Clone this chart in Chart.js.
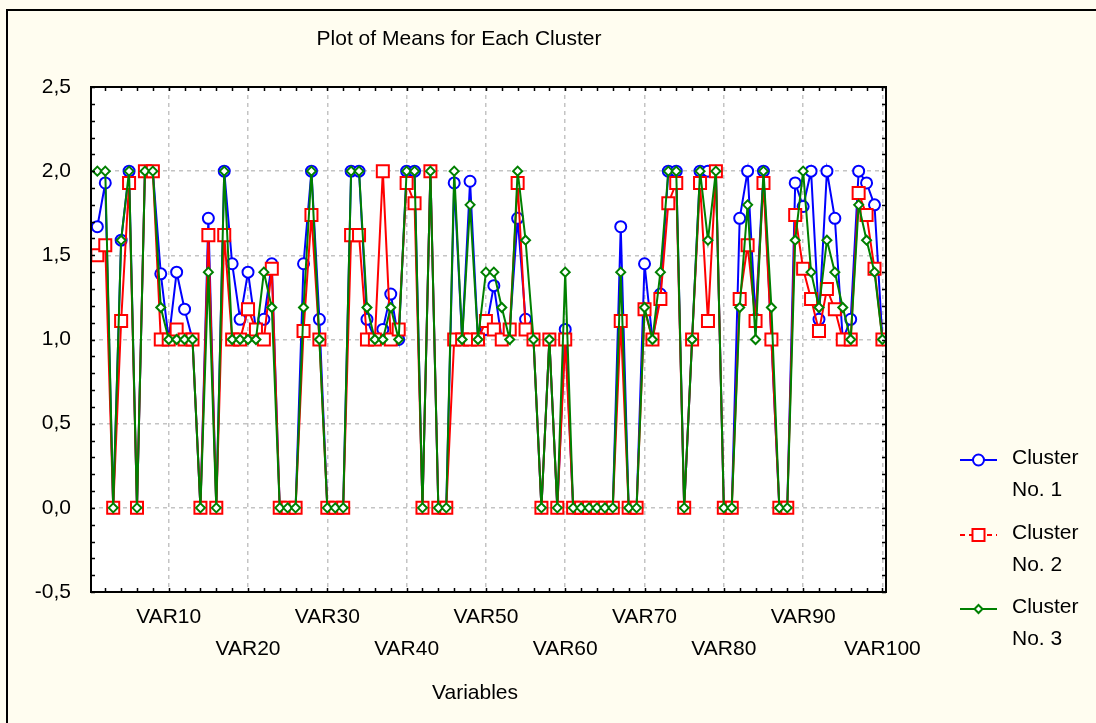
<!DOCTYPE html>
<html>
<head>
<meta charset="utf-8">
<title>Plot of Means for Each Cluster</title>
<script src="https://cdn.jsdelivr.net/npm/chart.js@4.4.1/dist/chart.umd.min.js"></script>
<style>
  html, body { margin: 0; padding: 0; background: #fffdf0; }
  canvas { display: block; }
</style>
</head>
<body>
<canvas id="myChart" width="1096" height="723"></canvas>
<script>
const variables = [
  'VAR1','VAR2','VAR3','VAR4','VAR5','VAR6','VAR7','VAR8','VAR9','VAR10',
  'VAR11','VAR12','VAR13','VAR14','VAR15','VAR16','VAR17','VAR18','VAR19','VAR20',
  'VAR21','VAR22','VAR23','VAR24','VAR25','VAR26','VAR27','VAR28','VAR29','VAR30',
  'VAR31','VAR32','VAR33','VAR34','VAR35','VAR36','VAR37','VAR38','VAR39','VAR40',
  'VAR41','VAR42','VAR43','VAR44','VAR45','VAR46','VAR47','VAR48','VAR49','VAR50',
  'VAR51','VAR52','VAR53','VAR54','VAR55','VAR56','VAR57','VAR58','VAR59','VAR60',
  'VAR61','VAR62','VAR63','VAR64','VAR65','VAR66','VAR67','VAR68','VAR69','VAR70',
  'VAR71','VAR72','VAR73','VAR74','VAR75','VAR76','VAR77','VAR78','VAR79','VAR80',
  'VAR81','VAR82','VAR83','VAR84','VAR85','VAR86','VAR87','VAR88','VAR89','VAR90',
  'VAR91','VAR92','VAR93','VAR94','VAR95','VAR96','VAR97','VAR98','VAR99','VAR100'
]

const cluster1 = [
  1.67,1.93,0,1.59,2,0,2,2,1.39,1,
  1.40,1.18,1,0,1.72,0,2,1.45,1.12,1.40,
  1.06,1.12,1.45,0,0,0,1.45,2,1.12,0,
  0,0,2,2,1.12,1,1.06,1.27,1,2,
  2,0,2,0,0,1.93,1,1.94,1,1.06,
  1.32,1,1.06,1.72,1.12,1,0,1,0,1.06,
  0,0,0,0,0,0,1.67,0,0,1.45,
  1,1.27,2,2,0,1,2,2,2,0,
  0,1.72,2,1.12,2,1,0,0,1.93,1.79,
  2,1.12,2,1.72,1,1.12,2,1.93,1.80,1
]
const cluster2 = [
  1.50,1.56,0,1.11,1.93,0,2,2,1,1,
  1.06,1,1,0,1.62,0,1.62,1,1,1.18,
  1.06,1,1.42,0,0,0,1.05,1.74,1,0,
  0,0,1.62,1.62,1,1,2,1,1.06,1.93,
  1.81,0,2,0,0,1,1,1,1,1.11,
  1.06,1,1.06,1.93,1.06,1,0,1,0,1,
  0,0,0,0,0,0,1.11,0,0,1.18,
  1,1.24,1.81,1.93,0,1,1.93,1.11,2,0,
  0,1.24,1.56,1.11,1.93,1,0,0,1.74,1.42,
  1.24,1.05,1.30,1.18,1,1,1.87,1.74,1.42,1
]
const cluster3 = [
  2,2,0,1.59,2,0,2,2,1.19,1,
  1,1,1,0,1.40,0,2,1,1,1,
  1,1.40,1.19,0,0,0,1.19,2,1,0,
  0,0,2,2,1.19,1,1,1.19,1,2,
  2,0,2,0,0,2,1,1.80,1,1.40,
  1.40,1.19,1,2,1.59,1,0,1,0,1.40,
  0,0,0,0,0,0,1.40,0,0,1.19,
  1,1.40,2,2,0,1,2,1.59,2,0,
  0,1.19,1.80,1,2,1.19,0,0,1.59,2,
  1.40,1.19,1.59,1.40,1.19,1,1.80,1.59,1.40,1
]

const xTickValues = [10, 20, 30, 40, 50, 60, 70, 80, 90, 100]
const legendNames = [['Cluster', 'No. 1'], ['Cluster', 'No. 2'], ['Cluster', 'No. 3']]

const FONT = '"Liberation Sans", Arial, Helvetica, sans-serif'
const varNumbers = variables.map((v, i) => i + 1)

function toPoints(values) {
  return values.map((v, i) => ({ x: varNumbers[i], y: v }))
}

function drawMarker(ctx, style, x, y, r) {
  ctx.beginPath()
  if (style === 'circle') {
    ctx.arc(x, y, r, 0, Math.PI * 2)
  } else if (style === 'rect') {
    const s = r * Math.SQRT1_2
    ctx.rect(x - s, y - s, 2 * s, 2 * s)
  } else {
    ctx.moveTo(x, y - r)
    ctx.lineTo(x + r, y)
    ctx.lineTo(x, y + r)
    ctx.lineTo(x - r, y)
    ctx.closePath()
  }
  ctx.fill()
  ctx.stroke()
}

// background, box, minor ticks, titles and legend
const framePlugin = {
  id: 'frame',
  beforeDraw(chart) {
    const { ctx, chartArea: a } = chart
    ctx.save()
    ctx.fillStyle = '#fffdf0'
    ctx.fillRect(0, 0, chart.width, chart.height)
    ctx.strokeStyle = '#000'
    ctx.lineWidth = 2
    ctx.strokeRect(7, 10, chart.width, chart.height)
    ctx.fillStyle = '#ffffff'
    ctx.fillRect(a.left, a.top, a.right - a.left, a.bottom - a.top)
    ctx.restore()
  },
  afterDraw(chart) {
    const { ctx, chartArea: a } = chart
    const xs = chart.scales.x
    const ys = chart.scales.y
    ctx.save()
    ctx.strokeStyle = '#000'
    ctx.lineWidth = 2
    ctx.strokeRect(a.left, a.top, a.right - a.left, a.bottom - a.top)

    ctx.lineWidth = 1.5
    ctx.beginPath()
    for (let k = 0; k <= 30; k++) {
      const py = Math.round(ys.getPixelForValue(-0.5 + k * 0.1)) + 0.5
      ctx.moveTo(a.left, py); ctx.lineTo(a.left + 4, py)
      ctx.moveTo(a.right, py); ctx.lineTo(a.right - 4, py)
    }
    for (let n = 2; n <= 100; n += 2) {
      const px = Math.round(xs.getPixelForValue(n)) + 0.5
      ctx.moveTo(px, a.top); ctx.lineTo(px, a.top + 4)
      ctx.moveTo(px, a.bottom); ctx.lineTo(px, a.bottom - 4)
    }
    ctx.stroke()

    ctx.fillStyle = '#000'
    ctx.font = '21px ' + FONT
    ctx.textAlign = 'center'
    ctx.textBaseline = 'middle'
    ctx.fillText('Plot of Means for Each Cluster', 459, 39)
    ctx.fillText('Variables', 475, 693)

    // legend
    const rowY = [460, 535, 609]
    chart.data.datasets.forEach((ds, i) => {
      const y = rowY[i]
      ctx.strokeStyle = ds.borderColor
      ctx.lineWidth = 2
      ctx.setLineDash(i === 1 ? [5, 4] : [])
      ctx.beginPath()
      ctx.moveTo(960, y); ctx.lineTo(997, y)
      ctx.stroke()
      ctx.setLineDash([])
      ctx.fillStyle = '#ffffff'
      drawMarker(ctx, ds.pointStyle, 978.5, y, ds.pointStyle === 'rectRot' ? 4 : ds.pointRadius)
      ctx.fillStyle = '#000'
      ctx.textAlign = 'left'
      ctx.fillText(legendNames[i][0], 1012, y - 2)
      ctx.fillText(legendNames[i][1], 1012, y + 30)
    })
    ctx.restore()
  }
}

const data = {
  datasets: [
    {
      label: 'Cluster No. 1',
      data: toPoints(cluster1),
      borderColor: '#0000ff',
      borderWidth: 2,
      pointStyle: 'circle',
      pointRadius: 5.5,
      pointBorderWidth: 2,
      pointBorderColor: '#0000ff',
      pointBackgroundColor: '#ffffff',
      order: 3
    },
    {
      label: 'Cluster No. 2',
      data: toPoints(cluster2),
      borderColor: '#ff0000',
      borderWidth: 2,
      pointStyle: 'rect',
      pointRadius: 8.5,
      pointBorderWidth: 2,
      pointBorderColor: '#ff0000',
      pointBackgroundColor: '#ffffff',
      order: 2
    },
    {
      label: 'Cluster No. 3',
      data: toPoints(cluster3),
      borderColor: '#008000',
      borderWidth: 2,
      pointStyle: 'rectRot',
      pointRadius: 4.5,
      pointBorderWidth: 2,
      pointBorderColor: '#008000',
      pointBackgroundColor: '#ffffff',
      order: 1
    }
  ]
}

const config = {
  type: 'line',
  data,
  options: {
    responsive: false,
    animation: false,
    events: [],
    layout: { padding: { top: 87, right: 210, left: 0, bottom: 0 } },
    plugins: {
      legend: { display: false },
      title: { display: false },
      tooltip: { enabled: false }
    },
    scales: {
      x: {
        type: 'linear',
        min: 0.2,
        max: 100.45,
        afterBuildTicks: (scale) => {
          scale.ticks = xTickValues.map(v => ({ value: v }))
        },
        afterFit: (scale) => { scale.height = 131 },
        grid: { color: '#c4c4c4', lineWidth: 1.5, drawTicks: false },
        border: { display: false, dash: [4, 4] },
        ticks: {
          autoSkip: false,
          maxRotation: 0,
          minRotation: 0,
          padding: 9,
          color: '#000',
          font: { family: FONT, size: 21, lineHeight: 32 / 21 },
          callback: (v) => {
            const name = variables[v - 1]
            return (v / 10) % 2 === 1 ? [name, ''] : ['', name]
          }
        }
      },
      y: {
        min: -0.5,
        max: 2.5,
        afterFit: (scale) => { scale.width = 91 },
        grid: { color: '#c4c4c4', lineWidth: 1.5, drawTicks: false },
        border: { display: false, dash: [4, 4] },
        ticks: {
          stepSize: 0.5,
          padding: 20,
          color: '#000',
          font: { family: FONT, size: 21 },
          callback: (v) => v.toFixed(1).replace('.', ',')
        }
      }
    }
  },
  plugins: [framePlugin]
}

const myChart = new Chart(document.getElementById('myChart'), config)
</script>
</body>
</html>
